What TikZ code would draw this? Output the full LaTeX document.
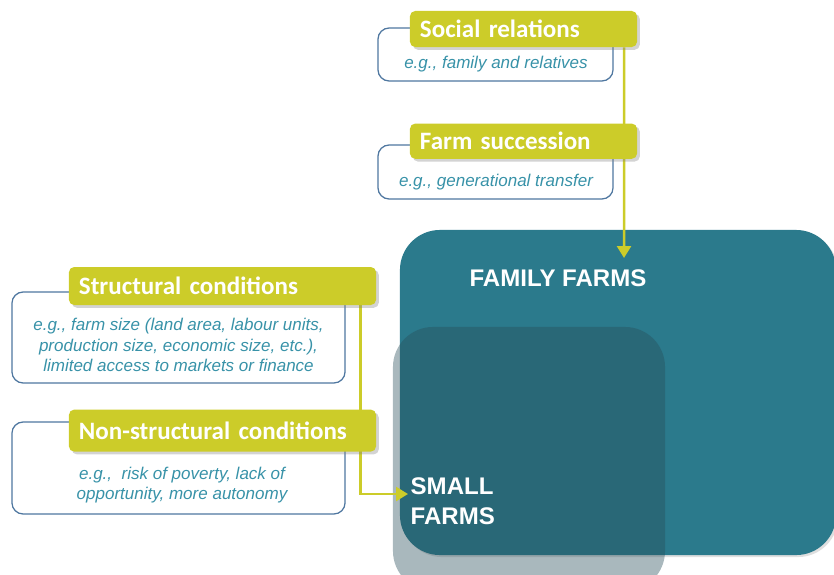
\documentclass[tikz,border=0pt]{standalone}
\usepackage{fontspec}
\setmainfont{Liberation Sans}
\newfontfamily\tagfont[WordSpace=0.75]{Carlito}
\usetikzlibrary{positioning,arrows.meta,shadows}
\definecolor{tagyellow}{RGB}{204,204,41}
\definecolor{noteblue}{RGB}{79,119,160}
\definecolor{noteteal}{RGB}{56,146,168}
\definecolor{familyteal}{RGB}{43,122,140}
\definecolor{smallslate}{RGB}{40,77,89}
\pgfdeclarelayer{background}
\pgfdeclarelayer{lines}
\pgfsetlayers{background,lines,main}
\tikzset{tag node/.style={rectangle,rounded corners=0.13cm,fill=tagyellow,text=white,
             font=\tagfont\bfseries\fontsize{17.8}{20}\selectfont,align=left,inner xsep=0.25cm,
             drop shadow={shadow xshift=0.07cm,shadow yshift=-0.07cm,opacity=0.35}},
         note box/.style={rectangle,rounded corners=0.28cm,draw=noteblue,line width=0.9pt},
         note text/.style={text=noteteal,font=\itshape\fontsize{12.1}{14.6}\selectfont,align=center},
         farm node/.style={rectangle,rounded corners=1cm,inner sep=0pt},
         farm label/.style={text=white,font=\bfseries\fontsize{17.1}{21.3}\selectfont,align=left,inner sep=1pt},
         link/.style={draw=tagyellow,line width=1.8pt},
            }

\begin{document}
\begin{tikzpicture}[x=0.025cm,y=-0.025cm]
    \useasboundingbox (0,0) rectangle (834,574);

    % farm boxes
    \begin{pgfonlayer}{background}
    \node[farm node,fill=familyteal,minimum width=10.9cm,minimum height=8.125cm,
          drop shadow={shadow xshift=0.05cm,shadow yshift=-0.05cm,opacity=0.25}] (family) at (618,392.5) {};
    \node[farm node,fill=smallslate,fill opacity=0.4,minimum width=6.8cm,minimum height=6.6cm] (small) at (529,459) {};
    \end{pgfonlayer}
    \node[farm label] (famlabel) at (558,278) {FAMILY FARMS};
    \node[farm label,anchor=west] (smalllabel) at (409,501) {SMALL\\FARMS};

    % note boxes
    \node[note box,minimum width=5.875cm,minimum height=1.325cm] (socialnote) at (495.5,54.5) {};
    \node[note box,minimum width=5.875cm,minimum height=1.35cm] (fsnote) at (495.5,172) {};
    \node[note box,minimum width=8.325cm,minimum height=2.275cm] (structnote) at (178.5,337.5) {};
    \node[note box,minimum width=8.325cm,minimum height=2.3cm] (nonstructnote) at (178.5,468) {};

    \node[note text] (socialtext) at (496,64) {e.g., family and relatives};
    \node[note text] (fstext) at (496,182) {e.g., generational transfer};
    \node[note text] (structtext) at (178.5,345) {e.g., farm size (land area, labour units,\\production size, economic size, etc.),\\limited access to markets or finance};
    \node[note text] (nonstructtext) at (182,485) {e.g.,~ risk of poverty, lack of\\opportunity, more autonomy};

    % tags
    \node[tag node,text width=5.175cm,minimum height=0.9cm] (social) at (523.5,29) {Social relations};
    \node[tag node,text width=5.175cm,minimum height=0.88cm] (fs) [below = 1.9cm of social] {Farm succession};
    \node[tag node,text width=7.175cm,minimum height=0.95cm] (struct) at (222.5,286) {Structural conditions};
    \node[tag node,text width=7.175cm,minimum height=1.05cm] (nonstruct) [below = 2.6cm of struct] {Non-structural conditions};

    \coordinate (famtip) at (624,258);
    \coordinate (smalltip) at (408,494);

    \begin{pgfonlayer}{lines}
    \draw[link,-{Triangle[length=0.3cm,width=0.35cm]}] ([xshift=-0.33cm]social.south east) -- (famtip);
    \draw[link,-{Triangle[length=0.3cm,width=0.35cm]}] ([xshift=-0.4cm]struct.south east) |- (smalltip);
    \end{pgfonlayer}

\end{tikzpicture}
\end{document}
